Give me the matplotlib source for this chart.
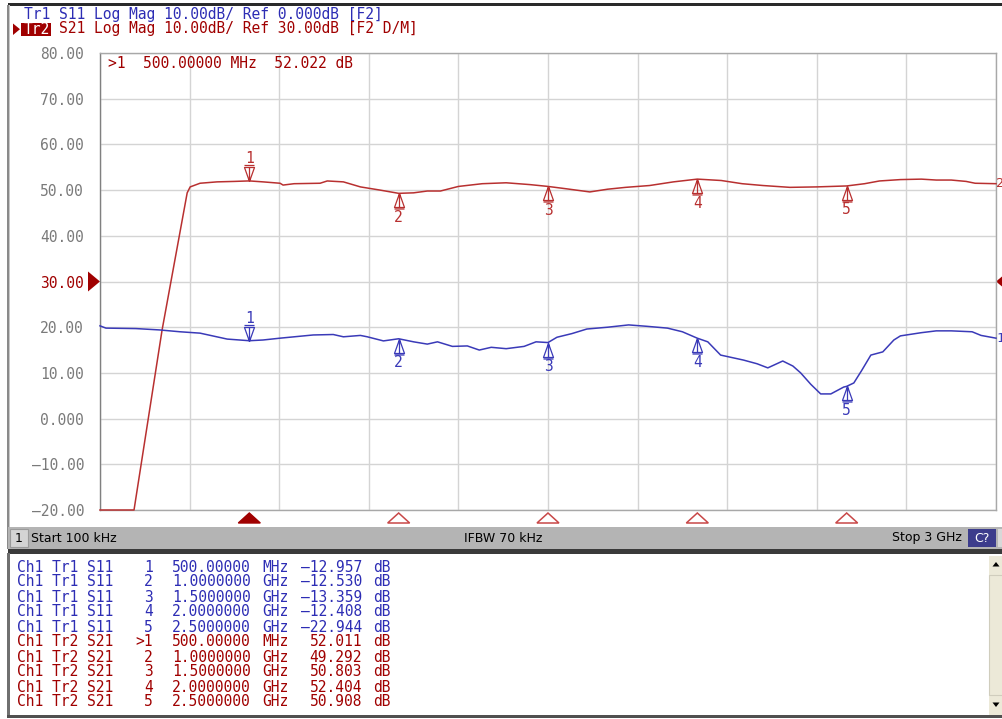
import matplotlib
matplotlib.use("Agg")
import matplotlib.pyplot as plt
from matplotlib.patches import Rectangle, Polygon
from matplotlib.path import Path
import numpy as np

# ---------------- data ----------------
f_start = 0.0001   # GHz (100 kHz)
f_stop = 3.0       # GHz
ref_offset = 30.0  # Tr1 reference (0 dB) sits at the 30 dB line of the Tr2 scale

y_ticks = [-20, -10, 0, 10, 20, 30, 40, 50, 60, 70, 80]
y_labels = ["\u201320.00", "\u201310.00", "0.000", "10.00", "20.00", "30.00",
            "40.00", "50.00", "60.00", "70.00", "80.00"]

# S21 trace (Tr2), dB
s21_f = [0.0001, 0.114, 0.208, 0.292, 0.302, 0.335, 0.392, 0.45, 0.5, 0.546, 0.603,
         0.613, 0.65, 0.737, 0.761, 0.815, 0.872, 0.938, 1.0, 1.05, 1.096, 1.14,
         1.2, 1.28, 1.36, 1.44, 1.5, 1.56, 1.64, 1.70, 1.76, 1.84, 1.92, 2.0,
         2.08, 2.15, 2.22, 2.31, 2.40, 2.5, 2.56, 2.61, 2.68, 2.75, 2.80, 2.85,
         2.90, 2.93, 3.0]
s21_db = [-20.0, -20.0, 19.4, 49.4, 50.7, 51.5, 51.8, 51.9, 52.011, 51.8, 51.5,
          51.1, 51.4, 51.5, 52.0, 51.8, 50.7, 50.0, 49.292, 49.4, 49.8, 49.8,
          50.8, 51.4, 51.6, 51.2, 50.803, 50.3, 49.6, 50.2, 50.6, 51.0, 51.8, 52.404,
          52.1, 51.4, 51.0, 50.6, 50.7, 50.908, 51.4, 52.0, 52.3, 52.4, 52.2, 52.2,
          51.9, 51.5, 51.4]

# S11 trace (Tr1), dB
s11_f = [0.0001, 0.02, 0.12, 0.2, 0.268, 0.335, 0.426, 0.5, 0.546, 0.603, 0.714,
         0.781, 0.815, 0.872, 0.895, 0.949, 1.0, 1.05, 1.096, 1.13, 1.18, 1.23,
         1.27, 1.31, 1.36, 1.42, 1.46, 1.5, 1.53, 1.58, 1.63, 1.70, 1.77, 1.83,
         1.90, 1.95, 2.0, 2.035, 2.078, 2.155, 2.2, 2.236, 2.286, 2.32, 2.346,
         2.38, 2.413, 2.447, 2.49, 2.5, 2.524, 2.55, 2.581, 2.621, 2.658, 2.68,
         2.75, 2.80, 2.85, 2.92, 2.95, 3.0]
s11_db = [-9.7, -10.2, -10.3, -10.6, -11.0, -11.3, -12.6, -12.957, -12.8, -12.4, -11.7,
          -11.6, -12.1, -11.8, -12.1, -13.0, -12.530, -13.2, -13.7, -13.2, -14.2, -14.1,
          -15.0, -14.4, -14.7, -14.2, -13.2, -13.359, -12.2, -11.4, -10.4, -10.0, -9.5, -9.8,
          -10.2, -11.0, -12.408, -13.2, -16.1, -17.2, -18.0, -18.9, -17.4, -18.5, -20.0,
          -22.5, -24.6, -24.6, -23.1, -22.944, -22.2, -19.5, -16.1, -15.4, -12.8, -11.9,
          -11.2, -10.8, -10.8, -11.0, -11.8, -12.4]

# marker table
mk_ids = ["1", "2", "3", "4", "5"]
mk_f = [0.5, 1.0, 1.5, 2.0, 2.5]
mk_s11 = [-12.957, -12.530, -13.359, -12.408, -22.944]
mk_s21 = [52.011, 49.292, 50.803, 52.404, 50.908]
active_readout = ">1  500.00000 MHz  52.022 dB"

header1 = "Tr1 S11 Log Mag 10.00dB/ Ref 0.000dB [F2]"
header2_tag = "Tr2"
header2 = "S21 Log Mag 10.00dB/ Ref 30.00dB [F2 D/M]"

# ---------------- style ----------------
W, H = 1003, 719
MONO = "DejaVu Sans Mono"
SANS = "DejaVu Sans"
BLUE = "#2d2db4"
BLUE_T = "#3a3ab8"
RED = "#a00000"
RED_T = "#b83030"
GRAY = "#7a7a7a"
FS = 10.5
CHW = 0.602 * FS * 100 / 72  # monospace char width in px

fig = plt.figure(figsize=(W / 100, H / 100), dpi=100)
fig.patch.set_facecolor("white")


def fx(x):
    return x / W


def fy(y):
    return 1 - y / H


def frect(x0, y0, x1, y1, **kw):
    fig.patches.append(Rectangle((fx(x0), fy(y1)), (x1 - x0) / W, (y1 - y0) / H,
                                 transform=fig.transFigure, **kw))


# ---------------- frame ----------------
frect(8, 3, 1003, 6, facecolor="#2a2a2a", edgecolor="none")
frect(7, 5, 8.5, 549, facecolor="#8a8a8a", edgecolor="none")
frect(9.5, 5, 10.5, 549, facecolor="#c8c8c8", edgecolor="none")

# header
fig.text(fx(24), fy(15), header1, color=BLUE, family=MONO, fontsize=FS, va="center")
frect(21, 22.5, 51, 36, facecolor=RED, edgecolor="none")
fig.text(fx(24), fy(29), header2_tag, color="white", family=MONO, fontsize=FS, va="center")
fig.text(fx(24 + 4 * CHW), fy(29), header2, color=RED, family=MONO, fontsize=FS, va="center")
fig.patches.append(Polygon([(fx(13), fy(23.5)), (fx(13), fy(35)), (fx(20), fy(29.2))],
                           closed=True, transform=fig.transFigure, facecolor=RED,
                           edgecolor="none"))

# ---------------- plot ----------------
ax = fig.add_axes([fx(100), fy(510), 896 / W, 457 / H])
ax.set_facecolor("white")
ax.set_xlim(f_start, f_stop)
ax.set_ylim(-20, 80)
ax.set_xticks(np.linspace(f_start, f_stop, 11))
ax.set_yticks(y_ticks)
ax.set_yticklabels(y_labels)
ax.tick_params(axis="x", length=0, labelbottom=False)
ax.tick_params(axis="y", length=0, pad=11.5, labelsize=FS, labelcolor=GRAY)
for i, lbl in enumerate(ax.get_yticklabels()):
    lbl.set_fontfamily(MONO)
    if y_ticks[i] == ref_offset:
        lbl.set_color(RED)
ax.grid(True, color="#d4d4d4", lw=1.0)
ax.set_axisbelow(True)
for side, sp in ax.spines.items():
    sp.set_color("#a8a8a8")
    sp.set_linewidth(1.0)
ax.spines["left"].set_color("#808080")

s11_screen = np.array(s11_db) + ref_offset
ax.plot(s21_f, s21_db, color=RED_T, lw=1.1, clip_on=False, zorder=3)
ax.plot(s11_f, s11_screen, color=BLUE_T, lw=1.1, clip_on=False, zorder=3)

# trace end labels
ax.annotate("2", (f_stop, s21_db[-1]), xytext=(0.3, 0), textcoords="offset points",
            color=RED_T, family=MONO, fontsize=9.5, ha="left", va="center",
            annotation_clip=False)
ax.annotate("1", (f_stop, s11_screen[-1]), xytext=(0.3, 0), textcoords="offset points",
            color=BLUE_T, family=MONO, fontsize=9.5, ha="left", va="center",
            annotation_clip=False)

# marker symbols
above = Path([(0, 0), (-5, 14), (5, 14), (0, 0), (-5, 16), (5, 16), (0, 0), (0, 14)],
             [Path.MOVETO, Path.LINETO, Path.LINETO, Path.LINETO,
              Path.MOVETO, Path.LINETO, Path.MOVETO, Path.LINETO])
below = Path([(0, 0), (-5, -14), (5, -14), (0, 0), (-5, -15.5), (5, -15.5), (0, 0), (0, -14)],
             [Path.MOVETO, Path.LINETO, Path.LINETO, Path.LINETO,
              Path.MOVETO, Path.LINETO, Path.MOVETO, Path.LINETO])
ms_above = 2 * 16 * 0.72
ms_below = 2 * 15.5 * 0.72

for tr_vals, col in ((mk_s21, RED_T), (list(np.array(mk_s11) + ref_offset), BLUE_T)):
    for k, (mid, f, v) in enumerate(zip(mk_ids, mk_f, tr_vals)):
        if k == 0:
            ax.plot([f], [v], marker=above, ms=ms_above, mfc="none", mec=col, mew=0.9,
                    ls="none", zorder=4)
            ax.annotate(mid, (f, v), xytext=(0, 22 * 0.72), textcoords="offset points",
                        color=col, family=MONO, fontsize=FS, ha="center", va="center")
        else:
            ax.plot([f], [v], marker=below, ms=ms_below, mfc="none", mec=col, mew=0.9,
                    ls="none", zorder=4)
            ax.annotate(mid, (f, v), xytext=(0, -24 * 0.72), textcoords="offset points",
                        color=col, family=MONO, fontsize=FS, ha="center", va="center")

# marker position triangles under the grid
dxp = (f_stop - f_start) / 896.0
dyp = 1.0 / 457.0
xt = ax.get_xaxis_transform()
for k, f in enumerate(mk_f):
    pts = [(f, -3 * dyp), (f - 11 * dxp, -13 * dyp), (f + 11 * dxp, -13 * dyp)]
    if k == 0:
        ax.add_patch(Polygon(pts, closed=True, transform=xt, facecolor=RED,
                             edgecolor=RED, lw=1, clip_on=False))
    else:
        ax.add_patch(Polygon(pts, closed=True, transform=xt, facecolor="none",
                             edgecolor="#c84848", lw=1.1, clip_on=False))

# reference position triangles
yt = ax.get_yaxis_transform()
dyd = 100.0 / 457.0
ax.add_patch(Polygon([(0, ref_offset), (-12 / 896, ref_offset + 10 * dyd),
                      (-12 / 896, ref_offset - 10 * dyd)], closed=True, transform=yt,
                     facecolor=RED, edgecolor="none", clip_on=False))
ax.add_patch(Polygon([(1, ref_offset), (1 + 12 / 896, ref_offset + 10 * dyd),
                      (1 + 12 / 896, ref_offset - 10 * dyd)], closed=True, transform=yt,
                     facecolor=RED, edgecolor="none", clip_on=False))

# active marker readout
fig.text(fx(108), fy(64), active_readout, color=RED, family=MONO, fontsize=FS, va="center")

# ---------------- status bar ----------------
frect(8, 527, 1003, 548.5, facecolor="#b4b4b4", edgecolor="none")
frect(10, 529, 28, 547, facecolor="#d4d4d4", edgecolor="#9a9a9a", lw=0.8)
fig.text(fx(19), fy(538), "1", color="black", family=SANS, fontsize=9, ha="center", va="center")
fig.text(fx(31), fy(538), "Start 100 kHz", color="black", family=SANS, fontsize=9, va="center")
fig.text(fx(503), fy(538), "IFBW 70 kHz", color="black", family=SANS, fontsize=9,
         ha="center", va="center")
fig.text(fx(962), fy(538), "Stop 3 GHz", color="black", family=SANS, fontsize=9,
         ha="right", va="center")
frect(968, 529, 996, 547, facecolor="#3c3c8c", edgecolor="none")
fig.text(fx(982), fy(538), "C?", color="white", family=SANS, fontsize=9, ha="center", va="center")
frect(998, 529, 1003, 547, facecolor="#d8d8d8", edgecolor="none")
frect(8, 549, 1003, 553.5, facecolor="#3a3a3a", edgecolor="none")

# ---------------- marker table ----------------
frect(8, 553.5, 1003, 718, facecolor="white", edgecolor="none")
frect(7, 553, 10, 718, facecolor="#707070", edgecolor="none")
frect(7, 715, 1003, 718, facecolor="#505050", edgecolor="none")
# scrollbar
frect(989, 556, 1003, 715, facecolor="#ece9d8", edgecolor="none")
frect(989.5, 575, 1003, 695, facecolor="#ece9d8", edgecolor="#d0cdbd", lw=0.8)
fig.patches.append(Polygon([(fx(996), fy(562)), (fx(992.5), fy(566.5)), (fx(999.5), fy(566.5))],
                           closed=True, transform=fig.transFigure, facecolor="black",
                           edgecolor="none"))
fig.patches.append(Polygon([(fx(996), fy(707)), (fx(992.5), fy(702.5)), (fx(999.5), fy(702.5))],
                           closed=True, transform=fig.transFigure, facecolor="black",
                           edgecolor="none"))


def fmt_freq(f):
    if f < 1:
        return f"{f * 1000:.5f}", "MHz"
    return f"{f:.7f}", "GHz"


def fmt_val(v):
    s = f"{v:.3f}"
    return s.replace("-", "\u2013")


rows = []
for mid, f, v in zip(mk_ids, mk_f, mk_s11):
    rows.append(("Ch1 Tr1 S11", mid, f, v, BLUE))
for k, (mid, f, v) in enumerate(zip(mk_ids, mk_f, mk_s21)):
    rows.append(("Ch1 Tr2 S21", (">" + mid) if k == 0 else mid, f, v, RED))

for i, (name, mid, f, v, col) in enumerate(rows):
    y = fy(567 + 15 * i)
    fs, unit = fmt_freq(f)
    kw = dict(color=col, family=MONO, fontsize=FS, va="center")
    fig.text(fx(17), y, name, **kw)
    fig.text(fx(153), y, mid, ha="right", **kw)
    fig.text(fx(172), y, fs, **kw)
    fig.text(fx(262), y, unit, **kw)
    fig.text(fx(362), y, fmt_val(v), ha="right", **kw)
    fig.text(fx(373), y, "dB", **kw)

fig.savefig("out.png", dpi=100, facecolor="white")
